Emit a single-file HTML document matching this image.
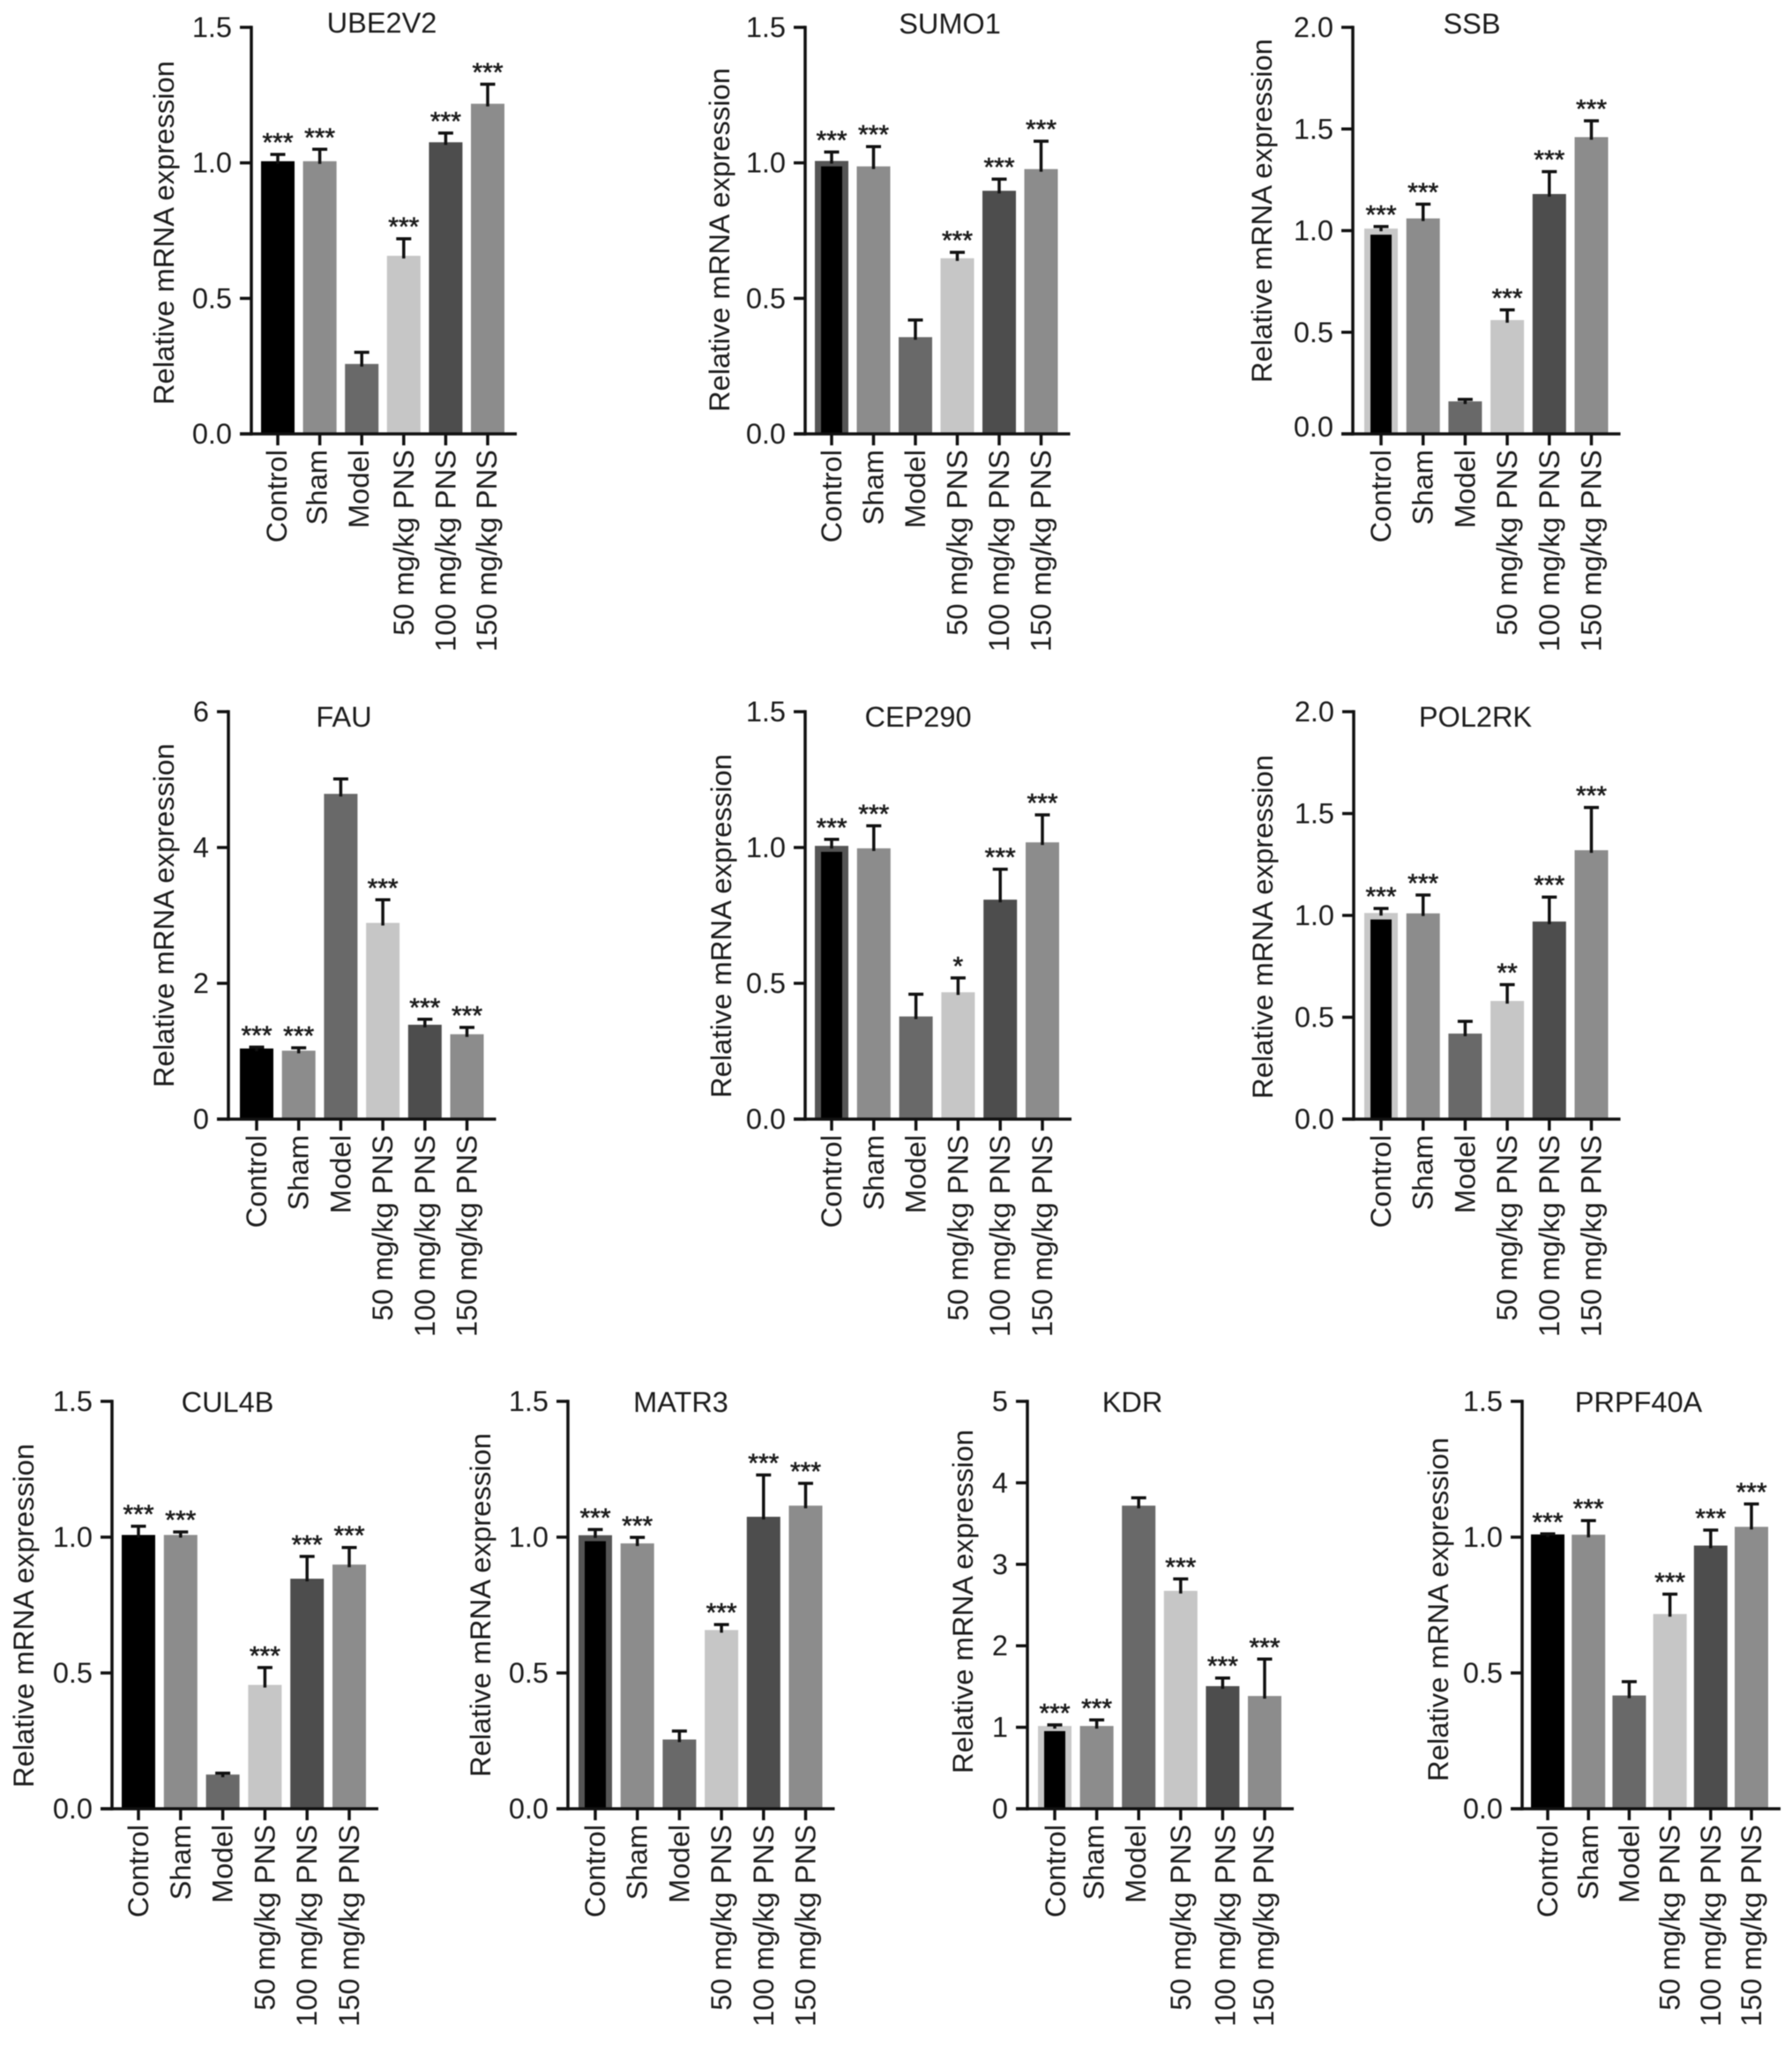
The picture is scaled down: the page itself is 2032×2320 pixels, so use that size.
<!DOCTYPE html>
<html lang="en">
<head>
<meta charset="utf-8">
<title>Relative mRNA expression panels</title>
<style>
html,body{margin:0;padding:0;background:#fff;width:2032px;height:2320px;overflow:hidden}
svg{display:block;filter:blur(0.6px)}
text{font-family:"Liberation Sans",sans-serif;fill:#1c1c1c}
</style>
</head>
<body>
<svg id="figure" xmlns="http://www.w3.org/2000/svg" width="2032" height="2320" viewBox="0 0 2032 2320"></svg>
<script>
const categories = ['Control','Sham','Model','50 mg/kg PNS','100 mg/kg PNS','150 mg/kg PNS'];
const barColors = ['#000000','#8c8c8c','#696969','#c6c6c6','#4d4d4d','#8c8c8c'];

const ticks15 = [0, 0.5, 1, 1.5];
const labels15 = ['0.0','0.5','1.0','1.5'];
const ticks20 = [0, 0.5, 1, 1.5, 2];
const labels20 = ['0.0','0.5','1.0','1.5','2.0'];
const ticksFau = [0, 2, 4, 6];
const labelsFau = ['0','2','4','6'];
const ticksKdr = [0, 1, 2, 3, 4, 5];
const labelsKdr = ['0','1','2','3','4','5'];

const ube2v2Values = [1.006, 1.006, 0.258, 0.657, 1.076, 1.218];
const ube2v2Errors = [1.031, 1.05, 0.301, 0.72, 1.11, 1.29];
const ube2v2Stars = ['***','***','','***','***','***'];

const sumo1Values = [1.007, 0.987, 0.357, 0.648, 0.897, 0.977];
const sumo1Errors = [1.04, 1.06, 0.42, 0.67, 0.94, 1.08];
const sumo1Stars = ['***','***','','***','***','***'];

const ssbValues = [1.01, 1.06, 0.16, 0.56, 1.18, 1.46];
const ssbErrors = [1.02, 1.13, 0.17, 0.61, 1.29, 1.54];
const ssbStars = ['***','***','','***','***','***'];

const fauValues = [1.04, 1.008, 4.79, 2.89, 1.39, 1.25];
const fauErrors = [1.06, 1.05, 5.01, 3.23, 1.47, 1.35];
const fauStars = ['***','***','','***','***','***'];

const cep290Values = [1.006, 0.997, 0.378, 0.467, 0.808, 1.019];
const cep290Errors = [1.03, 1.08, 0.46, 0.52, 0.92, 1.12];
const cep290Stars = ['***','***','','*','***','***'];

const pol2rkValues = [1.012, 1.01, 0.42, 0.58, 0.97, 1.32];
const pol2rkErrors = [1.034, 1.10, 0.48, 0.66, 1.09, 1.53];
const pol2rkStars = ['***','***','','**','***','***'];

const cul4bValues = [1.008, 1.008, 0.126, 0.456, 0.847, 0.899];
const cul4bErrors = [1.04, 1.019, 0.131, 0.52, 0.929, 0.962];
const cul4bStars = ['***','***','','***','***','***'];

const matr3Values = [1.007, 0.977, 0.255, 0.658, 1.075, 1.116];
const matr3Errors = [1.028, 0.999, 0.286, 0.678, 1.229, 1.198];
const matr3Stars = ['***','***','','***','***','***'];

const kdrValues = [1.016, 1.016, 3.72, 2.674, 1.505, 1.384];
const kdrErrors = [1.03, 1.09, 3.816, 2.82, 1.605, 1.837];
const kdrStars = ['***','***','','***','***','***'];

const prpf40aValues = [1.01, 1.009, 0.417, 0.717, 0.969, 1.038];
const prpf40aErrors = [1.012, 1.061, 0.468, 0.79, 1.026, 1.122];
const prpf40aStars = ['***','***','','***','***','***'];

const panels = [
  {title:'UBE2V2', values:ube2v2Values, errors:ube2v2Errors, stars:ube2v2Stars, ticks:ticks15, tickLabels:labels15, inset:null, frame:{axis:285, top:31, zero:492, first:315, step:47.6, labelX:197, labelY:264, titleX:433, titleY:37, nudge:[-1,-3,-3,0,0,-1]}},
  {title:'SUMO1', values:sumo1Values, errors:sumo1Errors, stars:sumo1Stars, ticks:ticks15, tickLabels:labels15, inset:{value:0.987, color:'#555555'}, frame:{axis:913, top:31, zero:492, first:943, step:47.5, labelX:827, labelY:272, titleX:1077, titleY:38}},
  {title:'SSB', values:ssbValues, errors:ssbErrors, stars:ssbStars, ticks:ticks20, tickLabels:labels20, inset:{value:0.98, color:'#c8c8c8'}, frame:{axis:1534, top:31, zero:492, first:1566, step:47.7, labelX:1442, labelY:239, titleX:1669, titleY:38, zeroLift:8}},
  {title:'FAU', values:fauValues, errors:fauErrors, stars:fauStars, ticks:ticksFau, tickLabels:labelsFau, inset:null, frame:{axis:259, top:807, zero:1269, first:291, step:47.7, labelX:197, labelY:1038, titleX:390, titleY:824}},
  {title:'CEP290', values:cep290Values, errors:cep290Errors, stars:cep290Stars, ticks:ticks15, tickLabels:labels15, inset:{value:0.984, color:'#555555'}, frame:{axis:913, top:807, zero:1269, first:943, step:47.8, labelX:829, labelY:1050, titleX:1041, titleY:824}},
  {title:'POL2RK', values:pol2rkValues, errors:pol2rkErrors, stars:pol2rkStars, ticks:ticks20, tickLabels:labels20, inset:{value:0.98, color:'#c8c8c8'}, frame:{axis:1535, top:807, zero:1269, first:1566, step:47.7, labelX:1443, labelY:1051, titleX:1673, titleY:824}},
  {title:'CUL4B', values:cul4bValues, errors:cul4bErrors, stars:cul4bStars, ticks:ticks15, tickLabels:labels15, inset:null, frame:{axis:127, top:1589, zero:2051, first:157, step:47.8, labelX:38, labelY:1832, titleX:258, titleY:1601}},
  {title:'MATR3', values:matr3Values, errors:matr3Errors, stars:matr3Stars, ticks:ticks15, tickLabels:labels15, inset:{value:0.985, color:'#555555'}, frame:{axis:644, top:1589, zero:2051, first:675, step:47.7, labelX:556, labelY:1820, titleX:772, titleY:1601}},
  {title:'KDR', values:kdrValues, errors:kdrErrors, stars:kdrStars, ticks:ticksKdr, tickLabels:labelsKdr, inset:{value:0.953, color:'#c8c8c8'}, frame:{axis:1165, top:1589, zero:2051, first:1196, step:47.6, labelX:1103, labelY:1816, titleX:1284, titleY:1601, nudge:[1,-3,-3,0,3,-1]}},
  {title:'PRPF40A', values:prpf40aValues, errors:prpf40aErrors, stars:prpf40aStars, ticks:ticks15, tickLabels:labels15, inset:null, frame:{axis:1726, top:1589, zero:2051, first:1755, step:46.2, labelX:1642, labelY:1825, titleX:1858, titleY:1601}}
];

const NS = 'http://www.w3.org/2000/svg';
const figure = document.getElementById('figure');
const INK = '#111111';
const STROKE = 3.5;
const BAR_WIDTH = 38;
const INSET_WIDTH = 24;
const CAP_WIDTH = 17;
const TICK_LENGTH = 13;
const AXIS_FONT = 32.5;

function mk(tag, attrs, parent, content) {
  const el = document.createElementNS(NS, tag);
  for (const k in attrs) el.setAttribute(k, attrs[k]);
  if (content !== undefined) el.textContent = content;
  parent.appendChild(el);
  return el;
}

function slug(s) {
  return s.toLowerCase().replace(/[^a-z0-9]+/g, '-');
}

panels.forEach(function (panel) {
  const f = panel.frame;
  const yMax = panel.ticks[panel.ticks.length - 1];
  const yScale = function (v) { return f.zero - (v / yMax) * (f.zero - f.top); };
  const xScale = function (i) { return f.first + i * f.step; };
  const key = slug(panel.title);

  const group = mk('g', {}, figure);
  
  

  const title = mk('text', {x:f.titleX, y:f.titleY, 'text-anchor':'middle', 'font-size':AXIS_FONT}, group, panel.title);
  
  

  const yTitle = mk('text', {x:f.labelX, y:f.labelY, 'text-anchor':'middle', 'font-size':32.8, transform:'rotate(-90 ' + f.labelX + ' ' + f.labelY + ')'}, group, 'Relative mRNA expression');
  
  

  panel.values.forEach(function (value, i) {
    const cx = xScale(i);
    const name = slug(categories[i]);
    const barTop = yScale(value);
    const errTop = yScale(panel.errors[i]);

    const isInsetBar = i === 0 && panel.inset;
    const bar = mk('rect', {x:cx - BAR_WIDTH / 2, y:barTop, width:BAR_WIDTH, height:f.zero - barTop, fill:isInsetBar ? panel.inset.color : barColors[i]}, group);
    
    

    if (isInsetBar) {
      const insetTop = yScale(panel.inset.value);
      const inner = mk('rect', {x:cx - INSET_WIDTH / 2, y:insetTop, width:INSET_WIDTH, height:f.zero - insetTop, fill:'#000000'}, group);
      
      
    }

    const stem = mk('line', {x1:cx, x2:cx, y1:barTop + 3, y2:errTop, stroke:INK, 'stroke-width':STROKE}, group);
    
    

    const cap = mk('line', {x1:cx - CAP_WIDTH / 2, x2:cx + CAP_WIDTH / 2, y1:errTop, y2:errTop, stroke:INK, 'stroke-width':STROKE}, group);
    
    

    if (panel.stars[i]) {
      const star = mk('text', {x:cx, y:errTop - 3.5, 'text-anchor':'middle', 'font-size':30, stroke:'#1c1c1c', 'stroke-width':0.6}, group, panel.stars[i]);
      
      
    }

    const tick = mk('line', {x1:cx, x2:cx, y1:f.zero, y2:f.zero + TICK_LENGTH, stroke:INK, 'stroke-width':STROKE}, group);
    
    

    const lx = cx + 11 + (f.nudge ? f.nudge[i] : 0);
    const ly = f.zero + 18;
    const label = mk('text', {x:lx, y:ly, 'text-anchor':'end', 'font-size':32.7, transform:'rotate(-90 ' + lx + ' ' + ly + ')'}, group, categories[i]);
    
    
  });

  panel.ticks.forEach(function (t, i) {
    const y = yScale(t);
    const tick = mk('line', {x1:f.axis - TICK_LENGTH, x2:f.axis, y1:y, y2:y, stroke:INK, 'stroke-width':STROKE}, group);
    
    

    const lift = (t === 0 && f.zeroLift) ? f.zeroLift : 0;
    const label = mk('text', {x:f.axis - TICK_LENGTH - 9, y:y + 11 - lift, 'text-anchor':'end', 'font-size':32.5}, group, panel.tickLabels[i]);
    
    
  });

  const yAxis = mk('line', {x1:f.axis, x2:f.axis, y1:f.top - STROKE / 2, y2:f.zero + STROKE / 2, stroke:INK, 'stroke-width':STROKE}, group);
  
  

  const xAxis = mk('line', {x1:f.axis - TICK_LENGTH, x2:xScale(panel.values.length - 1) + 33, y1:f.zero, y2:f.zero, stroke:INK, 'stroke-width':STROKE}, group);
  
  
});
</script>
</body>
</html>
